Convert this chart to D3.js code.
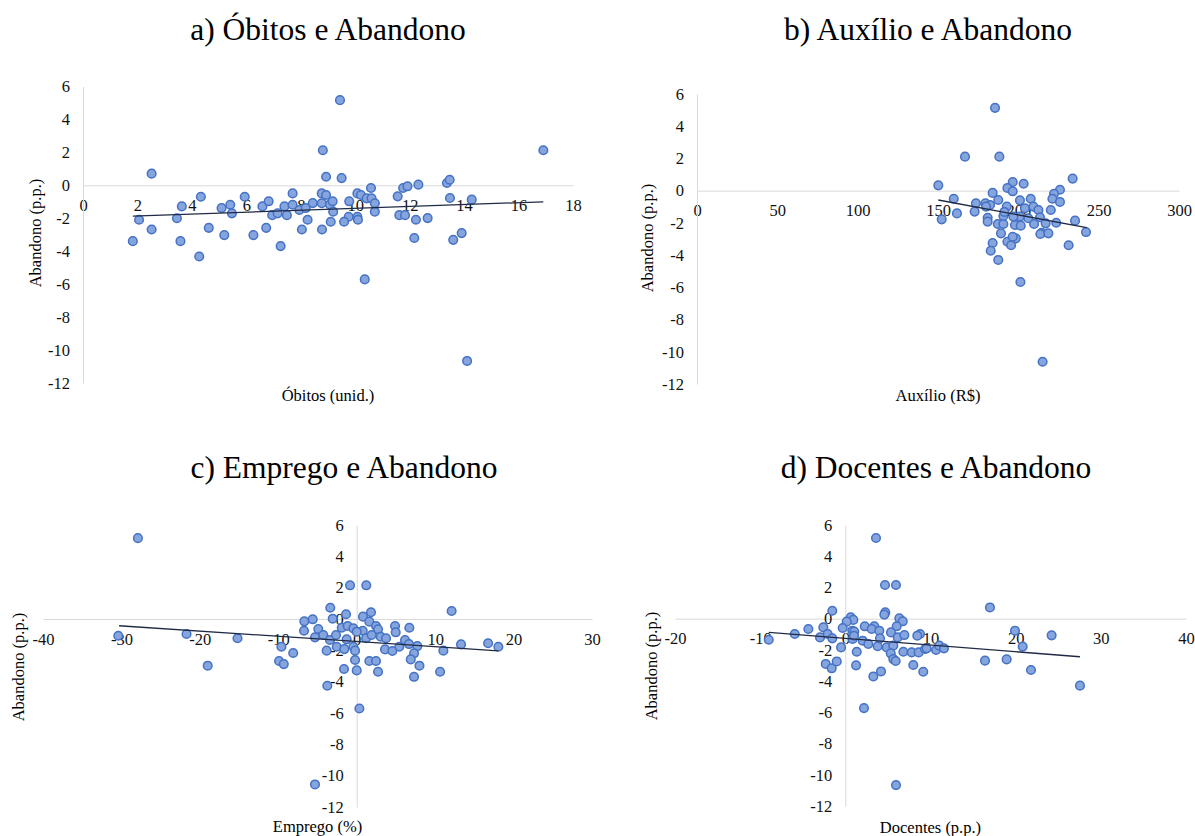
<!DOCTYPE html>
<html><head><meta charset="utf-8">
<script src="https://cdn.jsdelivr.net/npm/d3@7"></script>
<style>
body{margin:0;background:#fff}
svg text{font-family:"Liberation Serif",serif !important}
</style>
</head><body>
<svg id="chart" width="1195" height="836" font-family="Liberation Serif"></svg>
<script>
// ---------- DATA ----------
const abandonoTicks = [6,4,2,0,-2,-4,-6,-8,-10,-12];

const obitosTicks = [0,2,4,6,8,10,12,14,16,18];
const obitosX = [1.83,2.06,2.52,2.52,3.45,3.58,3.63,4.27,4.33,4.62,5.09,5.19,5.41,5.47,5.94,6.26,6.59,6.73,6.82,6.95,7.15,7.26,7.40,7.49,7.70,7.70,7.95,8.04,8.18,8.25,8.44,8.81,8.93,9.44,9.50,8.77,8.93,8.77,9.07,9.17,9.19,9.78,10.08,10.21,10.42,10.60,10.72,10.72,9.76,10.08,10.10,9.59,9.10,8.78,10.58,11.56,11.76,11.92,12.32,13.37,13.47,13.48,14.28,11.62,11.83,12.23,12.66,12.17,13.60,13.91,10.35,14.11,16.91];
const obitosY = [-3.39,-2.09,0.71,-2.68,-2.00,-3.39,-1.28,-4.32,-0.69,-2.58,-1.38,-3.02,-1.18,-1.70,-0.69,-3.02,-1.28,-2.58,-0.97,-1.81,-1.70,-3.69,-1.28,-1.81,-0.49,-1.18,-1.50,-2.68,-1.38,-2.09,-1.08,2.13,0.52,5.17,0.44,-0.49,-0.59,-1.09,-1.16,-0.97,-1.60,-0.97,-0.49,-0.59,-0.79,-0.79,-1.09,-1.60,-1.91,-1.91,-2.09,-2.21,-2.21,-2.68,-0.16,-0.67,-0.16,-0.06,0.04,0.14,0.34,-0.77,-0.87,-1.81,-1.81,-2.09,-1.99,-3.20,-3.31,-2.90,-5.71,-10.66,2.13];
const obitosTrend = [[1.83,-1.87],[16.91,-1.00]];

const auxilioTicks = [0,50,100,150,200,250,300];
const auxilioX = [185.5,166.8,188.2,150.2,233.8,196.5,203.3,193.2,196.5,184.0,159.8,225.9,222.2,221.2,225.9,187.5,201.0,207.7,173.6,179.5,182.4,152.3,161.8,172.8,179.9,180.9,180.9,187.2,190.7,190.7,192.8,189.2,184.0,182.8,187.5,193.2,195.5,198.4,196.5,197.9,201.5,201.0,204.1,209.4,212.5,206.2,209.8,213.5,217.0,220.2,223.6,214.5,213.7,218.7,235.3,242.1,231.3,201.3,215.1,196.9,191.3];
const auxilioY = [5.14,2.11,2.11,0.33,0.75,0.54,0.43,0.17,-0.04,-0.14,-0.50,0.06,-0.19,-0.50,-0.70,-0.58,-0.60,-0.50,-0.78,-0.78,-0.89,-1.78,-1.41,-1.30,-0.99,-1.68,-1.92,-2.07,-2.07,-1.57,-0.99,-2.65,-3.25,-3.73,-4.30,-3.17,-3.39,-2.96,-2.86,-2.13,-2.17,-1.61,-1.09,-0.99,-1.20,-1.71,-2.07,-1.65,-2.03,-1.20,-1.99,-2.61,-2.69,-2.65,-1.86,-2.57,-3.39,-5.67,-10.62,-1.61,-1.32];
const auxilioTrend = [[150.2,-0.58],[242.5,-2.30]];

const empregoTicks = [-40,-30,-20,-10,0,10,20,30];
const empregoX = [-27.9,-30.4,-21.7,-19.0,-15.2,-9.6,-9.9,-9.3,-8.1,-0.85,1.22,12.1,-3.37,-1.36,1.82,0.80,-3.06,-6.68,-5.61,1.61,-6.72,-4.90,-1.91,-1.15,-0.43,0.77,2.46,2.72,4.89,4.97,6.71,-5.32,-4.26,-3.41,-2.64,-1.28,0.0,1.19,1.91,3.06,3.74,6.16,6.67,7.73,5.43,-2.55,-1.58,-0.43,-0.21,-3.83,3.61,4.54,7.31,11.05,13.3,16.75,18.06,-0.21,1.61,2.46,6.89,8.0,-1.62,0.0,2.72,10.63,7.31,-3.75,0.34,-5.32];
const empregoY = [5.16,-1.07,-0.96,-2.98,-1.23,-1.77,-2.68,-2.88,-2.17,2.15,2.15,0.51,0.72,0.30,0.43,0.15,0.02,-0.15,-0.02,-0.17,-0.75,-0.64,-0.56,-0.45,-0.60,-0.75,-0.45,-0.66,-0.45,-0.85,-0.56,-1.17,-1.02,-1.34,-1.02,-1.30,-0.81,-1.23,-1.02,-1.13,-1.23,-1.34,-1.60,-1.73,-1.77,-1.77,-1.92,-1.77,-2.02,-2.02,-1.94,-2.04,-2.19,-2.02,-1.62,-1.55,-1.77,-2.62,-2.68,-2.68,-2.58,-2.98,-3.19,-3.28,-3.37,-3.37,-3.69,-4.26,-5.71,-10.56];
const empregoTrend = [[-30.3,-0.43],[18.06,-2.04]];

const docentesTicks = [-20,-10,0,10,20,30,40];
const docentesX = [3.60,4.66,5.95,-1.53,4.69,4.58,6.34,0.63,0.94,0.16,6.74,6.03,2.28,3.40,3.09,3.99,-0.31,-2.58,-4.34,0.82,1.05,-5.94,-2.97,-2.07,-1.53,-8.99,0.86,1.02,2.04,2.70,3.80,4.07,5.36,6.15,6.93,4.86,5.63,-0.50,1.34,5.33,5.63,5.91,6.81,7.79,8.61,8.77,8.45,9.35,7.98,9.15,-2.30,-1.60,-1.01,1.26,3.29,4.19,2.19,5.95,16.98,19.92,24.22,20.82,16.40,18.94,21.80,27.55,9.55,10.65,11.03,11.58];
const docentesY = [5.17,2.16,2.16,0.51,0.40,0.26,0.02,0.08,-0.08,-0.19,-0.17,-0.49,-0.49,-0.49,-0.66,-0.77,-0.60,-0.56,-0.66,-0.77,-0.83,-0.98,-1.20,-0.98,-1.26,-1.35,-1.30,-1.09,-1.41,-1.62,-1.77,-1.26,-0.88,-1.20,-1.05,-1.84,-1.73,-1.84,-2.12,-2.22,-2.59,-2.71,-2.12,-2.16,-2.16,-0.98,-1.09,-1.94,-2.97,-3.40,-2.90,-3.18,-2.74,-2.99,-3.70,-3.38,-5.73,-10.66,0.72,-0.77,-1.07,-1.79,-2.69,-2.61,-3.29,-4.29,-1.90,-2.01,-1.73,-1.90];
const docentesTrend = [[-8.99,-0.88],[27.55,-2.44]];

const titles = ["a) Óbitos e Abandono","b) Auxílio e Abandono","c) Emprego e Abandono","d) Docentes e Abandono"];
const xTitles = ["Óbitos (unid.)","Auxílio (R$)","Emprego (%)","Docentes (p.p.)"];
const yTitle = "Abandono (p.p.)";

// ---------- LAYOUT ----------
const panels = [
  {xs:obitosX, ys:obitosY, trend:obitosTrend, ticks:obitosTicks, px:[83,573], py:[86.5,383], titleX:328, titleY:40, xtY:401, ylX:35, ylY:233},
  {xs:auxilioX, ys:auxilioY, trend:auxilioTrend, ticks:auxilioTicks, px:[697,1179], py:[94,384], titleX:928, titleY:40, xtY:401, ylX:647, ylY:238},
  {xs:empregoX, ys:empregoY, trend:empregoTrend, ticks:empregoTicks, px:[43,592], py:[525,807], titleX:344, titleY:478, xtY:832, ylX:18, ylY:667},
  {xs:docentesX, ys:docentesY, trend:docentesTrend, ticks:docentesTicks, px:[675,1186], py:[525,806], titleX:936, titleY:478, xtY:833, ylX:651, ylY:666}
];

const FONT = "Liberation Serif";
const svg = d3.select("#chart");
const axisColor = "#d9d9d9";
const tickFont = "16.5px";

panels.forEach((p, i) => {
  const xDom = d3.extent(p.ticks);
  const x = d3.scaleLinear().domain(xDom).range(p.px);
  const y = d3.scaleLinear().domain([6,-12]).range(p.py);
  const g = svg.append("g").attr("font-family", FONT);

  // title
  g.append("text").attr("x", p.titleX).attr("y", p.titleY)
    .attr("text-anchor","middle").attr("font-family", FONT).style("font-size","31.5px").text(titles[i]);

  // x axis at y=0
  const gx = g.append("g").attr("transform", `translate(0,${y(0)})`)
    .call(d3.axisBottom(x).tickValues(p.ticks).tickSize(0).tickSizeOuter(0).tickPadding(14));
  // y axis at x=0
  const gy = g.append("g").attr("transform", `translate(${x(0)},0)`)
    .call(d3.axisLeft(y).tickValues(abandonoTicks).tickSize(0).tickSizeOuter(0).tickPadding(13));
  [gx, gy].forEach(a => {
    a.attr("font-family", FONT).attr("font-size", 16.5);
    a.select(".domain").attr("stroke", axisColor).attr("stroke-width", 1);
    a.selectAll("text").attr("font-family", FONT).style("font-size", tickFont).attr("fill", "#111")
      .text(d => d < 0 ? "-" + Math.abs(d) : String(d));
  });

  // axis titles
  g.append("text").attr("x", (p.px[0]+p.px[1])/2).attr("y", p.xtY)
    .attr("text-anchor","middle").attr("font-family", FONT).style("font-size","16.5px").text(xTitles[i]);
  g.append("text").attr("transform", `translate(${p.ylX},${p.ylY}) rotate(-90)`)
    .attr("text-anchor","middle").attr("dy","0.35em").attr("font-family", FONT).style("font-size","16.5px").text(yTitle);

  // points
  const pts = p.xs.map((v, k) => [v, p.ys[k]]);
  g.append("g").selectAll("circle").data(pts).join("circle")
    .attr("cx", d => x(d[0])).attr("cy", d => y(d[1])).attr("r", 4.3)
    .attr("fill", "#86a4dd").attr("stroke", "#4472c4").attr("stroke-width", 1.5);

  // trend line
  g.append("path").datum(p.trend)
    .attr("d", d3.line().x(d => x(d[0])).y(d => y(d[1])))
    .attr("fill","none").attr("stroke","#1f2a44").attr("stroke-width",1.3);
});
</script>
</body></html>
